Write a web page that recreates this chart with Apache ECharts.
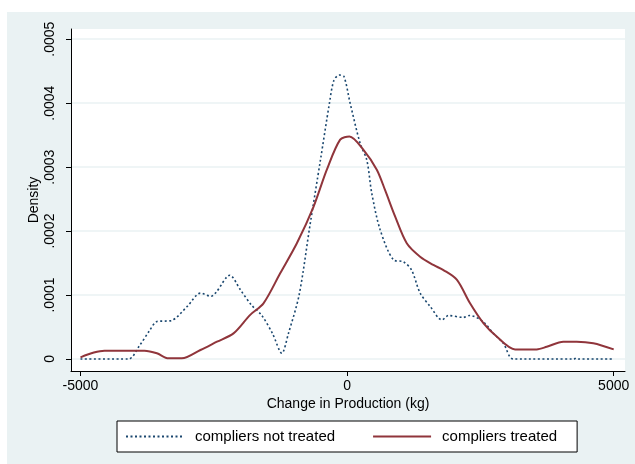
<!DOCTYPE html>
<html><head><meta charset="utf-8">
<script src="https://cdn.jsdelivr.net/npm/echarts@6/dist/echarts.min.js"></script>
<style>html,body{margin:0;padding:0;background:#fff}#c{width:635px;height:464px}</style>
</head><body><div id="c"></div><script>
// compliers not treated (blue dotted)
const notTreatedX = [-5000,-4100,-3900,-3700,-3567,-3300,-3000,-2750,-2550,-2450,-2200,-2000,-1800,-1600,-1400,-1224,-1100,-900,-700,-500,-331,-250,-150,-60,57,245,370,463,620,870,1056,1210,1370,1560,1780,1900,2180,2300,2556,2743,2931,3118,4250,4300,4350,5000];
const notTreatedY = [0,0,0.00002,0.000045,0.0000585,0.00006,0.000082,0.000103,0.000098,0.000105,0.000131,0.000108,0.000085,0.000068,0.00004,0.000009,0.00004,0.0001,0.000207,0.000311,0.0004,0.000435,0.000444,0.000442,0.0004,0.000337,0.000311,0.000259,0.000202,0.000155,0.000152,0.000139,0.000103,0.000082,0.000061,0.000068,0.000065,0.000068,0.000058,0.00004,0.0000245,0,0,0.0000015,0,0];
// compliers treated (red solid)
const treatedX = [-5000,-4750,-4550,-3800,-3567,-3350,-3100,-2750,-2440,-2130,-1817,-1568,-1255,-942,-630,-380,-130,44,307,557,713,900,1119,1369,1619,1807,2057,2306,2556,2806,3150,3556,3744,4056,4306,4618,5000];
const treatedY = [0.0000026,0.00001,0.000013,0.000013,0.000009,0.000001,0.000001,0.000014,0.000027,0.00004,0.000069,0.000087,0.000134,0.000181,0.000238,0.000296,0.000343,0.000348,0.000327,0.000296,0.000264,0.000223,0.000181,0.00016,0.000147,0.000139,0.000124,0.000087,0.000056,0.000035,0.000015,0.000015,0.000019,0.000027,0.000027,0.0000245,0.000015];
const xTicks = [-5000, 0, 5000];
const xTickLabels = ['-5000', '0', '5000'];
const yTicks = [0, 0.0001, 0.0002, 0.0003, 0.0004, 0.0005];
const yTickLabels = ['0', '.0001', '.0002', '.0003', '.0004', '.0005'];
const seriesNames = ['compliers not treated', 'compliers treated'];

const FONT = 'Liberation Sans, Arial, Helvetica, sans-serif';
const pairs = (xs, ys) => xs.map((x, i) => [x, ys[i]]);
const labelFor = (ticks, labels) => v => { const i = ticks.findIndex(t => Math.abs(t - v) < 1e-9); return i >= 0 ? labels[i] : ''; };
const chart = echarts.init(document.getElementById('c'), null, {renderer: 'canvas'});
chart.setOption({
  backgroundColor: '#ffffff',
  animation: false,
  graphic: [{
    type: 'rect', z: -100, silent: true,
    shape: {x: 7, y: 12, width: 628, height: 452},
    style: {fill: '#EAF2F3'}
  }],
  grid: {left: 71, right: 10, top: 29, bottom: 93, show: true, backgroundColor: '#ffffff', borderWidth: 0},
  xAxis: {
    type: 'value', min: -5178, max: 5212,
    name: 'Change in Production (kg)', nameLocation: 'middle', nameGap: 26, nameMoveOverlap: false,
    nameTextStyle: {fontFamily: FONT, fontSize: 14, color: '#000'},
    axisLine: {onZero: false, lineStyle: {color: '#000', width: 1}},
    axisTick: {customValues: xTicks, length: 5, lineStyle: {color: '#000'}},
    axisLabel: {customValues: xTicks, margin: 8, fontFamily: FONT, fontSize: 14, color: '#000',
      formatter: labelFor(xTicks, xTickLabels)},
    splitLine: {show: false}
  },
  yAxis: {
    type: 'value', min: -0.0000188, max: 0.000516,
    name: 'Density', nameLocation: 'middle', nameGap: 30, nameMoveOverlap: false,
    nameTextStyle: {fontFamily: FONT, fontSize: 14, color: '#000'},
    axisLine: {show: true, onZero: false, lineStyle: {color: '#000', width: 1}},
    axisTick: {show: true, customValues: yTicks, length: 5, lineStyle: {color: '#000'}},
    axisLabel: {customValues: yTicks, rotate: 90, margin: 14, fontFamily: FONT, fontSize: 14, color: '#000',
      formatter: labelFor(yTicks, yTickLabels)},
    splitLine: {show: true, lineStyle: {color: '#EAF2F3', width: 1.5}}
  },
  legend: {
    left: 117, top: 421, orient: 'horizontal',
    backgroundColor: '#ffffff', borderColor: '#000', borderWidth: 1,
    padding: [8, 20, 8, 8], itemGap: 37, itemWidth: 58, itemHeight: 14,
    itemStyle: {opacity: 0},
    textStyle: {fontFamily: FONT, fontSize: 15, color: '#000', padding: [0, 0, 0, 6]},
    data: seriesNames
  },
  series: [
    {name: seriesNames[0], type: 'line', smooth: 0.3, symbol: 'none', data: pairs(notTreatedX, notTreatedY),
     lineStyle: {color: '#1A476F', width: 1.6, type: [2, 2.5]}, itemStyle: {color: '#1A476F'}},
    {name: seriesNames[1], type: 'line', smooth: 0.3, symbol: 'none', data: pairs(treatedX, treatedY),
     lineStyle: {color: '#90353B', width: 2}, itemStyle: {color: '#90353B'}}
  ]
});
</script></body></html>
